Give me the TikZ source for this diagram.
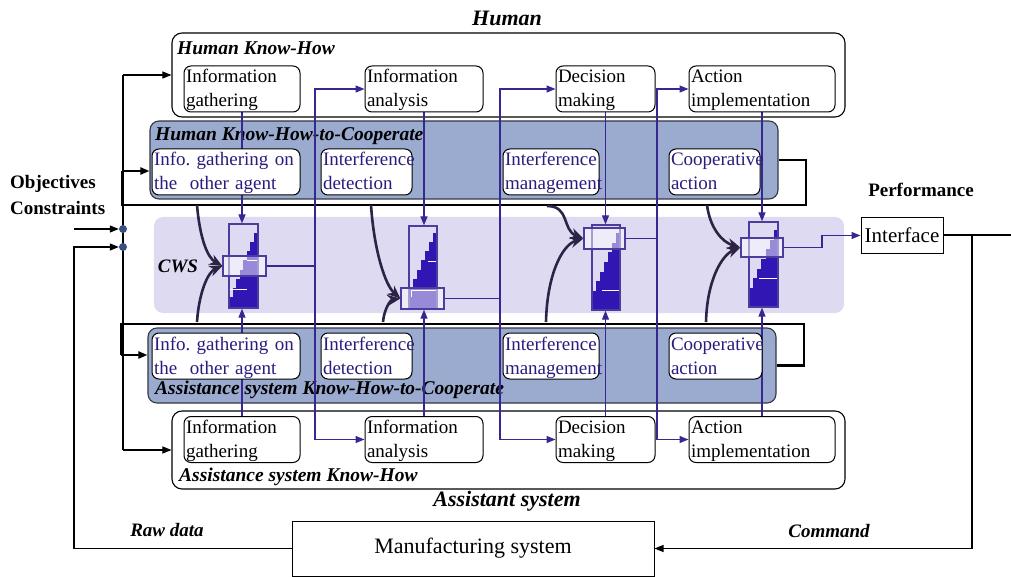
\documentclass[tikz,border=0pt]{standalone}
\usepackage{fontspec}
\setmainfont{Liberation Serif}
\usetikzlibrary{arrows.meta}
\definecolor{cwsbg}{RGB}{221,218,242}
\definecolor{khcfill}{RGB}{154,171,207}
\definecolor{khcdraw}{RGB}{55,55,65}
\definecolor{lnblue}{RGB}{55,40,145}
\definecolor{txtblue}{RGB}{42,28,125}
\definecolor{stairc}{RGB}{50,22,180}
\definecolor{colbd}{RGB}{75,60,158}
\definecolor{dotc}{RGB}{58,80,130}
\definecolor{curvec}{RGB}{45,35,68}
\pgfdeclarelayer{back}
\pgfdeclarelayer{mid}
\pgfsetlayers{back,mid,main}
\newcommand\myfs{\fontsize{19bp}{24bp}\selectfont}
\newcommand\mylfs{\fontsize{19.5bp}{24bp}\selectfont}
\newcommand\mytwo[2]{\rule{0pt}{17bp}#1\\#2\rule[-5bp]{0pt}{5bp}}
\newcommand\mystair[6]{%
  \foreach \i in {0,...,\numexpr#6-1\relax}{%
    \fill[stairc] ({#2-(\i+1)*(#2-#1)/#6},{#3+\i*(#4-#3)/(#6-1)}) rectangle (#2,#5);
  }}
\tikzset{
  ibox/.style={draw=black, line width=1bp, rounded corners=7bp, fill=white, inner xsep=2bp, inner ysep=0pt, align=left, font=\myfs, minimum height=46bp},
  cbox/.style={ibox, text=txtblue},
  obox/.style={draw=black, line width=1.1bp, rounded corners=10bp, fill=white, inner sep=0pt},
  kbox/.style={draw=khcdraw, line width=1.1bp, rounded corners=9bp, fill=khcfill, inner sep=0pt},
  lbl/.style={font=\mylfs\bfseries\itshape, anchor=west, inner sep=0pt},
  blk/.style={draw=black, line width=1.1bp},
  tri/.style={-{Triangle[length=9bp,width=7bp]}},
  bl/.style={draw=lnblue, line width=1.3bp},
  bold/.style={draw=black, line width=2.6bp},
  crv/.style={draw=curvec, line width=2.6bp, -{Stealth[length=13bp,width=11bp]}},
  colbox/.style={draw=colbd, line width=1.3bp, inner sep=0pt},
  ovbox/.style={draw=colbd, line width=1.3bp, fill=white, fill opacity=0.5, inner sep=0pt},
  dot/.style={circle, fill=dotc, inner sep=0pt, minimum size=8bp},
  sq/.style={draw=black, line width=1bp, inner sep=0pt}
}
\begin{document}
\begin{tikzpicture}[x=1bp,y=-1bp]
\useasboundingbox (0,0) rectangle (1011,577);

\begin{pgfonlayer}{back}
  \node[fill=cwsbg, rounded corners=9bp, minimum width=690bp, minimum height=96bp, inner sep=0pt] (cws) at (499,265) {};
  \node[obox, minimum width=673bp, minimum height=84bp] (hkh) at (508.5,75) {};
  \node[obox, minimum width=673bp, minimum height=78bp] (akh) at (508.5,450) {};
  \node[kbox, minimum width=628bp, minimum height=78bp] (hkhc) at (464,160) {};
  \node[kbox, minimum width=628bp, minimum height=75bp] (akhc) at (462,365.5) {};
  \node[lbl] (hkhl) at (177,48) {Human Know-How};
  \node[lbl] (hkhcl) at (155,136) {Human Know-How-to-Cooperate};
  \node[lbl] (akhcl) at (155,390) {Assistance system Know-How-to-Cooperate};
  \node[lbl] (akhl) at (179,477) {Assistance system Know-How};
\end{pgfonlayer}

% titles and labels
\node[font=\fontsize{22bp}{26bp}\selectfont\bfseries\itshape] (ttlh) at (507,18) {Human};
\node[font=\fontsize{22bp}{26bp}\selectfont\bfseries\itshape] (ttla) at (507,501) {Assistant system};
\node[font=\myfs\bfseries, anchor=west, inner sep=0pt] (obj) at (10,184) {Objectives};
\node[font=\myfs\bfseries, anchor=west, inner sep=0pt] (cons) at (10,208) {Constraints};
\node[font=\myfs\bfseries] (perf) at (921,190) {Performance};
\node[font=\myfs\bfseries\itshape] (cwsl) at (178,266) {CWS};
\node[font=\myfs\bfseries\itshape] (raw) at (167,530) {Raw data};
\node[font=\myfs\bfseries\itshape] (cmd) at (829,531) {Command};

\node[sq, minimum width=82bp, minimum height=35bp, font=\fontsize{21bp}{24bp}\selectfont] (iface) at (902,235.5) {Interface};
\node[sq, minimum width=362bp, minimum height=55bp, font=\fontsize{22bp}{26bp}\selectfont] (mfg) at (473,548.5) {Manufacturing system};

% human know-how
\node[ibox, text width=112bp] (hig) at (242,89) {\mytwo{Information}{gathering}};
\node[ibox, text width=114bp] (hia) at (424,89) {\mytwo{Information}{analysis}};
\node[ibox, text width=95bp] (hdm) at (605.5,89) {\mytwo{Decision}{making}};
\node[ibox, text width=142bp] (hai) at (762,89) {\mytwo{Action}{implementation}};
% human know-how-to-cooperate
\node[cbox, text width=144bp] (hcg) at (226,172) {\mytwo{Info.\ gathering on}{the~ other agent}};
\node[cbox, text width=87bp] (hcd) at (366.5,172) {\mytwo{Interference}{detection}};
\node[cbox, text width=92bp] (hcm) at (551,172) {\mytwo{Interference}{management}};
\node[cbox, text width=87bp] (hca) at (714.5,172) {\mytwo{Cooperative}{action}};
% assistant know-how-to-cooperate
\node[cbox, text width=144bp] (acg) at (226,356) {\mytwo{Info.\ gathering on}{the~ other agent}};
\node[cbox, text width=87bp] (acd) at (366.5,356) {\mytwo{Interference}{detection}};
\node[cbox, text width=92bp] (acm) at (551,356) {\mytwo{Interference}{management}};
\node[cbox, text width=89bp] (aca) at (715.5,356) {\mytwo{Cooperative}{action}};
% assistant know-how
\node[ibox, text width=112bp] (aig) at (242,439.5) {\mytwo{Information}{gathering}};
\node[ibox, text width=114bp] (aia) at (424,439.5) {\mytwo{Information}{analysis}};
\node[ibox, text width=95bp] (adm) at (605.5,439.5) {\mytwo{Decision}{making}};
\node[ibox, text width=142bp] (aai) at (762,439.5) {\mytwo{Action}{implementation}};

% CWS columns
\mystair{229}{257}{233}{297}{308}{8}
\mystair{409}{437}{233}{288}{309}{7}
\mystair{592}{620}{233}{291}{310}{7}
\mystair{749}{778}{230}{288}{307}{7}
\draw[white, line width=1bp] (229,289)--(247,289) (247,261)--(257,261)
  (428,262)--(436,262) (411,297)--(411,290)--(436,290)
  (602,290)--(619,290) (759,278)--(777,278);
\node[colbox, minimum width=29bp, minimum height=84bp] (col1) at (243.5,266) {};
\node[colbox, minimum width=28bp, minimum height=83bp] (col2) at (423,267.5) {};
\node[colbox, minimum width=28bp, minimum height=85bp] (col3) at (606,267.5) {};
\node[colbox, minimum width=29bp, minimum height=85bp] (col4) at (763.5,264.5) {};
\node[ovbox, minimum width=43bp, minimum height=20bp] (ov1) at (244.5,266) {};
\node[ovbox, minimum width=43bp, minimum height=21bp] (ov2) at (422.5,298.5) {};
\node[ovbox, minimum width=41bp, minimum height=21bp] (ov3) at (604.5,238.5) {};
\node[ovbox, minimum width=42bp, minimum height=19bp] (ov4) at (762,247.5) {};

\node[dot] (d1) at (123,229) {};
\node[dot] (d2) at (123,247) {};

% coordinates
\coordinate (sp1) at (123,75);
\coordinate (sp2) at (123,450);
\coordinate (oin) at (74,229);
\coordinate (rawc) at (74,247);
\coordinate (cmdc) at (972,235.5);
\coordinate (redge) at (1011,235.5);
\coordinate (lt1) at (806,205);
\coordinate (lt2) at (122,171);
\coordinate (lb1) at (804,324);
\coordinate (lb2) at (121,355);
\coordinate (j1) at (315,266);
\coordinate (j2) at (500,298.5);
\coordinate (j3) at (657,238.5);
\coordinate (j4) at (822,247.5);

\begin{pgfonlayer}{mid}
  \draw[blk] (sp1) -- (sp2);
  \draw[blk,tri] (sp1) -- (hkh.west);
  \draw[blk,tri] (sp2) -- (akh.west);
  \draw[blk,tri] (oin) -- (d1.west);
  \draw[blk,tri] (mfg.west) -| (rawc) -- (d2.west);
  \draw[draw=black, line width=2bp] (iface.east) -- (redge);
  \draw[blk,tri] (cmdc) |- (mfg.east);
  \draw[bold] (hkhc.east) -| (lt1) -| (lt2);
  \draw[draw=black, line width=2bp, tri] (lt2) -- (hkhc.west |- lt2);
  \draw[bold] (akhc.east) -| (lb1) -| (lb2);
  \draw[draw=black, line width=2bp, tri] (lb2) -- (akhc.west |- lb2);
  % blue connectors
  \draw[bl,tri] (hig.south) -- (hig.south |- col1.north);
  \draw[bl,tri] (aig.north) -- (aig.north |- col1.south);
  \draw[bl,tri] (hia.south) -- (hia.south |- col2.north);
  \draw[bl,tri] (aia.north) -- (aia.north |- col2.south);
  \draw[bl,tri] (hdm.south) -- (hdm.south |- col3.north);
  \draw[bl,tri] (adm.north) -- (adm.north |- col3.south);
  \draw[bl,tri] (hai.south) -- (hai.south |- col4.north);
  \draw[bl,tri] (aai.north) -- (aai.north |- col4.south);
  \draw[bl] (ov1.east) -- (j1);
  \draw[bl,tri] (j1) |- (hia.west);
  \draw[bl,tri] (j1) |- (aia.west);
  \draw[bl] (ov2.east) -- (j2);
  \draw[bl,tri] (j2) |- (hdm.west);
  \draw[bl,tri] (j2) |- (adm.west);
  \draw[bl] (ov3.east) -- (j3);
  \draw[bl,tri] (j3) |- (hai.west);
  \draw[bl,tri] (j3) |- (aai.west);
  \draw[bl,tri] (ov4.east) -- (j4) |- (iface.west);
\end{pgfonlayer}

% curved arrows
\coordinate (t1) at (197,205);
\coordinate (b1) at (197,322);
\coordinate (t2) at (371,205);
\coordinate (b2) at (383,322);
\coordinate (t3) at (547,206);
\coordinate (b3) at (546,322);
\coordinate (t4) at (707,205);
\coordinate (b4) at (706,322);
\draw[crv] (t1) .. controls (200,240) and (208,258) .. (ov1.west);
\draw[crv] (b1) .. controls (199,292) and (208,272) .. (ov1.west);
\draw[crv] (t2) .. controls (374,250) and (385,285) .. (ov2.west);
\draw[crv] (b2) .. controls (384,310) and (390,300) .. (ov2.west);
\draw[crv] (t3) .. controls (570,206) and (562,230) .. (ov3.west);
\draw[crv] (b3) .. controls (547,275) and (562,245) .. (ov3.west);
\draw[crv] (t4) .. controls (710,228) and (722,242) .. (ov4.west);
\draw[crv] (b4) .. controls (707,280) and (722,255) .. (ov4.west);
\end{tikzpicture}
\end{document}
